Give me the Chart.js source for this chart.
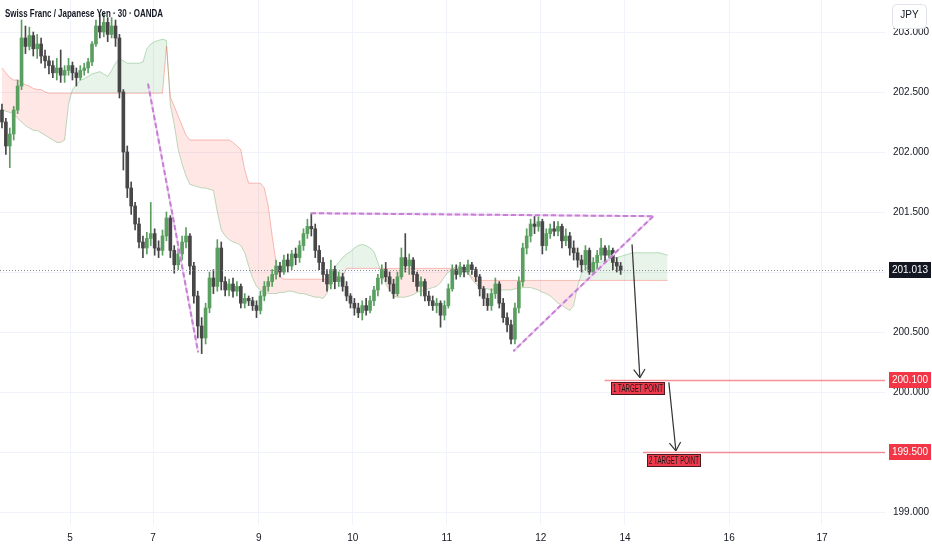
<!DOCTYPE html>
<html>
<head>
<meta charset="utf-8">
<script src="https://cdn.jsdelivr.net/npm/chart.js@4.4.1/dist/chart.umd.min.js"></script>
<style>
  html, body { margin: 0; padding: 0; background: #ffffff; }
</style>
</head>
<body>
<canvas id="myChart" width="932" height="550"></canvas>
<script>
// CHF/JPY 30m candles, one slot per candle
const opens = [
  202.35, 202.25, 202.05, 202.15, 202.35, 202.55, 202.95, 202.88, 202.97, 202.86,
  202.90, 202.80, 202.76, 202.72, 202.66, 202.70, 202.64, 202.68, 202.72, 202.66,
  202.62, 202.68, 202.70, 202.75, 202.90, 203.05, 203.00, 203.08, 202.98, 203.05,
  202.95, 202.50, 202.00, 201.70, 201.55, 201.40, 201.25, 201.20, 201.28, 201.32,
  201.20, 201.18, 201.30, 201.45, 201.18, 201.06, 201.15, 201.25, 201.30, 201.05,
  200.80, 200.55, 200.45, 200.70, 200.95, 200.88, 201.20, 200.92, 200.85, 200.90,
  200.84, 200.88, 200.74, 200.78, 200.76, 200.72, 200.68, 200.80, 200.88, 200.92,
  200.98, 201.05, 201.00, 201.10, 201.05, 201.15, 201.12, 201.22, 201.32, 201.38,
  201.36, 201.18, 201.08, 200.98, 200.90, 201.02, 200.92, 200.96, 200.88, 200.80,
  200.74, 200.70, 200.66, 200.72, 200.68, 200.76, 200.85, 200.95, 201.02, 200.96,
  200.90, 200.82, 200.96, 201.12, 201.05, 201.10, 200.98, 200.88, 200.92, 200.80,
  200.76, 200.72, 200.74, 200.64, 200.72, 200.86, 201.02, 200.98, 201.04, 201.00,
  201.06, 201.02, 200.96, 200.86, 200.78, 200.72, 200.82, 200.90, 200.74, 200.62,
  200.56, 200.44, 200.70, 200.92, 201.20, 201.30, 201.40, 201.38, 201.42, 201.22,
  201.32, 201.36, 201.34, 201.38, 201.26, 201.30, 201.20, 201.16, 201.10, 201.06,
  201.18, 201.00, 201.08, 201.14, 201.20, 201.14, 201.18, 201.08, 201.05
];
const highs = [
  202.40, 202.28, 202.20, 202.38, 202.60, 203.10, 203.05, 203.04, 203.00, 202.98,
  202.95, 202.85, 202.80, 202.76, 202.78, 202.85, 202.72, 202.78, 202.75, 202.70,
  202.72, 202.74, 202.78, 202.92, 203.10, 203.15, 203.15, 203.12, 203.12, 203.10,
  202.98, 202.52, 202.05, 201.75, 201.58, 201.45, 201.30, 201.33, 201.58, 201.36,
  201.26, 201.35, 201.50, 201.47, 201.22, 201.20, 201.30, 201.37, 201.32, 201.08,
  200.84, 200.62, 200.74, 201.00, 201.02, 201.27, 201.25, 200.96, 200.94, 200.95,
  200.92, 200.90, 200.82, 200.80, 200.79, 200.76, 200.84, 200.92, 200.96, 201.02,
  201.10, 201.08, 201.14, 201.15, 201.18, 201.20, 201.26, 201.36, 201.44, 201.49,
  201.40, 201.22, 201.12, 201.02, 201.10, 201.05, 201.00, 200.99, 200.92, 200.82,
  200.78, 200.74, 200.76, 200.78, 200.80, 200.88, 200.98, 201.06, 201.08, 201.00,
  200.94, 201.00, 201.20, 201.32, 201.15, 201.12, 201.00, 200.96, 200.94, 200.84,
  200.80, 200.78, 200.76, 200.76, 200.90, 201.06, 201.06, 201.08, 201.06, 201.10,
  201.08, 201.04, 200.98, 200.88, 200.82, 200.86, 200.95, 200.92, 200.78, 200.66,
  200.60, 200.74, 200.96, 201.24, 201.36, 201.44, 201.47, 201.46, 201.44, 201.36,
  201.40, 201.42, 201.42, 201.40, 201.36, 201.33, 201.26, 201.20, 201.14, 201.22,
  201.20, 201.12, 201.18, 201.28, 201.22, 201.22, 201.20, 201.12, 201.08
];
const lows = [
  202.20, 201.98, 201.87, 202.10, 202.32, 202.52, 202.82, 202.85, 202.80, 202.78,
  202.74, 202.70, 202.65, 202.62, 202.60, 202.58, 202.58, 202.64, 202.60, 202.55,
  202.60, 202.64, 202.66, 202.72, 202.88, 202.95, 202.96, 202.92, 202.95, 202.88,
  202.45, 201.85, 201.62, 201.48, 201.35, 201.20, 201.12, 201.15, 201.22, 201.14,
  201.12, 201.14, 201.26, 201.12, 200.99, 201.02, 201.10, 201.20, 200.98, 200.74,
  200.45, 200.32, 200.40, 200.66, 200.82, 200.84, 200.85, 200.80, 200.80, 200.79,
  200.80, 200.70, 200.70, 200.72, 200.68, 200.62, 200.65, 200.76, 200.84, 200.88,
  200.94, 200.96, 200.98, 201.00, 201.02, 201.06, 201.08, 201.18, 201.28, 201.30,
  201.12, 201.02, 200.92, 200.84, 200.86, 200.86, 200.88, 200.84, 200.76, 200.70,
  200.64, 200.62, 200.60, 200.64, 200.66, 200.72, 200.80, 200.90, 200.92, 200.84,
  200.78, 200.80, 200.94, 201.00, 200.98, 200.92, 200.84, 200.80, 200.76, 200.72,
  200.68, 200.66, 200.54, 200.60, 200.70, 200.84, 200.94, 200.96, 200.96, 200.98,
  200.98, 200.92, 200.80, 200.72, 200.68, 200.68, 200.78, 200.70, 200.58, 200.50,
  200.40, 200.40, 200.66, 200.88, 201.15, 201.25, 201.32, 201.34, 201.15, 201.18,
  201.28, 201.30, 201.30, 201.20, 201.22, 201.14, 201.10, 201.04, 201.00, 201.02,
  200.98, 200.98, 201.02, 201.10, 201.08, 201.10, 201.02, 201.00, 200.98
];
const closes = [
  202.25, 202.05, 202.15, 202.35, 202.55, 202.95, 202.88, 202.97, 202.86, 202.90,
  202.80, 202.76, 202.72, 202.66, 202.70, 202.64, 202.68, 202.72, 202.66, 202.62,
  202.68, 202.70, 202.75, 202.90, 203.05, 203.00, 203.08, 202.98, 203.05, 202.95,
  202.50, 202.00, 201.70, 201.55, 201.40, 201.25, 201.20, 201.28, 201.32, 201.20,
  201.18, 201.30, 201.45, 201.18, 201.06, 201.15, 201.25, 201.30, 201.05, 200.80,
  200.55, 200.45, 200.70, 200.95, 200.88, 201.20, 200.92, 200.85, 200.90, 200.84,
  200.88, 200.74, 200.78, 200.76, 200.72, 200.68, 200.80, 200.88, 200.92, 200.98,
  201.05, 201.00, 201.10, 201.05, 201.15, 201.12, 201.22, 201.32, 201.38, 201.36,
  201.18, 201.08, 200.98, 200.90, 201.02, 200.92, 200.96, 200.88, 200.80, 200.74,
  200.70, 200.66, 200.72, 200.68, 200.76, 200.85, 200.95, 201.02, 200.96, 200.90,
  200.82, 200.96, 201.12, 201.05, 201.10, 200.98, 200.88, 200.92, 200.80, 200.76,
  200.72, 200.74, 200.64, 200.72, 200.86, 201.02, 200.98, 201.04, 201.00, 201.06,
  201.02, 200.96, 200.86, 200.78, 200.72, 200.82, 200.90, 200.74, 200.62, 200.56,
  200.44, 200.70, 200.92, 201.20, 201.30, 201.40, 201.38, 201.42, 201.22, 201.32,
  201.36, 201.34, 201.38, 201.26, 201.30, 201.20, 201.16, 201.10, 201.06, 201.18,
  201.00, 201.08, 201.14, 201.20, 201.14, 201.18, 201.08, 201.05, 201.013
];

// ichimoku leading spans (already shifted forward)
const spanA = [
  202.35, 202.34, 202.33, 202.32, 202.28, 202.25, 202.22, 202.20, 202.18, 202.18,
  202.16, 202.14, 202.12, 202.10, 202.08, 202.08, 202.10, 202.40, 202.52, 202.56,
  202.60, 202.61, 202.63, 202.65, 202.66, 202.67, 202.65, 202.63, 202.68, 202.74,
  202.78, 202.76, 202.74, 202.74, 202.74, 202.74, 202.75, 202.86, 202.90, 202.92,
  202.93, 202.94, 202.93, 202.39, 202.23, 202.02, 201.90, 201.80, 201.73, 201.72,
  201.71, 201.70, 201.70, 201.69, 201.68, 201.50, 201.35, 201.30, 201.27, 201.25,
  201.24, 201.22, 201.16, 201.05, 200.95, 200.88, 200.85, 200.83, 200.82, 200.82,
  200.82, 200.83, 200.83, 200.84, 200.84, 200.83, 200.82, 200.82, 200.81, 200.80,
  200.79, 200.79, 200.78, 200.82, 200.95, 201.04, 201.08, 201.12, 201.15, 201.17,
  201.20, 201.22, 201.23, 201.22, 201.20, 201.17, 201.08, 200.98, 200.90, 200.85,
  200.80, 200.79, 200.79, 200.79, 200.80, 200.81, 200.83, 200.84, 200.85, 200.86,
  200.87, 200.88, 200.91, 200.96, 201.00, 201.02, 201.05, 201.05, 201.03, 200.99,
  200.94, 200.90, 200.87, 200.86, 200.86, 200.85, 200.85, 200.85, 200.85, 200.85,
  200.85, 200.86, 200.86, 200.87, 200.87, 200.87, 200.86, 200.85, 200.83, 200.82,
  200.80, 200.77, 200.74, 200.72, 200.70, 200.68, 200.72, 200.88, 200.99, 201.03,
  201.05, 201.07, 201.08, 201.08, 201.10, 201.11, 201.12, 201.12, 201.13, 201.14,
  201.15, 201.16, 201.16, 201.16, 201.16, 201.16, 201.16, 201.16, 201.16, 201.15, 201.14
];
const spanB = [
  202.70, 202.66, 202.62, 202.60, 202.60, 202.58, 202.56, 202.55, 202.53, 202.52,
  202.52, 202.50, 202.49, 202.49, 202.49, 202.49, 202.49, 202.49, 202.49, 202.49,
  202.49, 202.49, 202.49, 202.49, 202.49, 202.49, 202.49, 202.49, 202.49, 202.49,
  202.49, 202.49, 202.49, 202.49, 202.49, 202.49, 202.49, 202.49, 202.49, 202.49,
  202.49, 202.49, 202.88, 202.46, 202.38, 202.30, 202.22, 202.14, 202.10, 202.10,
  202.10, 202.10, 202.10, 202.10, 202.10, 202.10, 202.10, 202.10, 202.10, 202.08,
  202.05, 202.02, 201.85, 201.74, 201.74, 201.74, 201.74, 201.70, 201.55, 201.30,
  201.08, 200.96, 200.94, 200.94, 200.94, 200.94, 200.94, 200.94, 200.94, 200.94,
  200.94, 200.94, 200.94, 200.94, 200.94, 200.94, 200.94, 200.96, 201.03, 201.03,
  201.03, 201.03, 201.03, 201.03, 201.03, 201.03, 201.03, 201.03, 201.03, 201.03,
  201.03, 201.03, 201.03, 201.03, 201.03, 201.03, 201.03, 201.03, 201.03, 201.03,
  201.03, 201.03, 201.03, 201.03, 201.03, 201.03, 201.03, 201.03, 201.02, 201.00,
  200.96, 200.93, 200.93, 200.93, 200.93, 200.93, 200.93, 200.93, 200.93, 200.93,
  200.93, 200.93, 200.93, 200.93, 200.93, 200.93, 200.93, 200.93, 200.93, 200.93,
  200.93, 200.93, 200.93, 200.93, 200.93, 200.93, 200.93, 200.93, 200.93, 200.93,
  200.93, 200.93, 200.93, 200.93, 200.93, 200.93, 200.93, 200.93, 200.93, 200.93,
  200.93, 200.93, 200.93, 200.93, 200.93, 200.93, 200.93, 200.93, 200.93, 200.93, 200.93
];

// axis ticks
const dayLabels = ["5", "7", "9", "10", "11", "12", "14", "16", "17"];
const dayTickSlots = [17.4, 38.6, 65.6, 89.6, 113.6, 137.6, 159.1, 185.7, 209.4];
const priceTicks = [199.0, 199.5, 200.0, 200.5, 201.0, 201.5, 202.0, 202.5, 203.0];
const slotCount = 226;
const priceMin = 198.8917;
const priceMax = 203.2667;

// drawings on the chart, in [slot, price]
const lastPrice = 201.013;
const patternLines = [
  [[37.3, 202.57], [50.1, 200.33]],
  [[78.9, 201.49], [166.3, 201.465]],
  [[166.3, 201.465], [130.6, 200.34]],
];
const arrows = [
  [[160.9, 201.23], [162.9, 200.12]],
  [[170.3, 200.08], [172.1, 199.51]],
];
const targetPrices = [200.1, 199.5];
const targetStartSlots = [153.9, 163.7];
const targetLabelSlots = [155.5, 164.7];
const targetLabels = ["1 TARGET POINT", "2 TARGET POINT"];

const FONT = '"Liberation Sans", Arial, sans-serif';
const upColor = "#5a9f60";
const downColor = "#474747";

const candleColor = (c) => (closes[c.dataIndex] >= opens[c.dataIndex] ? upColor : downColor);

function seg(ctx, x1, y1, x2, y2) {
  ctx.beginPath();
  ctx.moveTo(x1, y1);
  ctx.lineTo(x2, y2);
  ctx.stroke();
}

const drawings = {
  id: "drawings",
  afterDatasetsDraw(chart) {
    const { ctx, chartArea: a } = chart;
    const x = chart.scales.x, y = chart.scales.y;
    ctx.save();
    ctx.beginPath();
    ctx.rect(a.left, a.top, a.right - a.left, a.bottom - a.top);
    ctx.clip();

    // last price dotted line
    const ly = Math.round(y.getPixelForValue(lastPrice)) + 0.5;
    ctx.strokeStyle = "#8a8d96";
    ctx.lineWidth = 1;
    ctx.setLineDash([1, 2]);
    seg(ctx, a.left, ly, a.right, ly);

    // triangle / wedge lines
    patternLines.forEach(([p, q]) => {
      const x1 = x.getPixelForValue(p[0]), y1 = y.getPixelForValue(p[1]);
      const x2 = x.getPixelForValue(q[0]), y2 = y.getPixelForValue(q[1]);
      ctx.lineWidth = 2;
      ctx.setLineDash([]);
      ctx.strokeStyle = "#efcdf4";
      seg(ctx, x1, y1, x2, y2);
      ctx.setLineDash([5, 3]);
      ctx.strokeStyle = "#c57fd3";
      seg(ctx, x1, y1, x2, y2);
    });
    ctx.setLineDash([]);

    // target lines
    targetPrices.forEach((p, i) => {
      const ty = Math.round(y.getPixelForValue(p)) + 0.5;
      ctx.strokeStyle = "rgba(242, 54, 69, 0.55)";
      ctx.lineWidth = 1.5;
      seg(ctx, x.getPixelForValue(targetStartSlots[i]), ty, a.right, ty);
    });

    // arrows
    ctx.strokeStyle = "#333333";
    ctx.lineWidth = 1.2;
    arrows.forEach(([p, q]) => {
      const x1 = x.getPixelForValue(p[0]), y1 = y.getPixelForValue(p[1]);
      const x2 = x.getPixelForValue(q[0]), y2 = y.getPixelForValue(q[1]);
      seg(ctx, x1, y1, x2, y2);
      const ang = Math.atan2(y2 - y1, x2 - x1);
      [0.6, -0.6].forEach((d) => {
        seg(ctx, x2, y2, x2 - 10 * Math.cos(ang + d), y2 - 10 * Math.sin(ang + d));
      });
    });

    // target label boxes
    targetLabels.forEach((t, i) => {
      const bx = Math.round(x.getPixelForValue(targetLabelSlots[i])) + 0.5;
      const by = Math.round(y.getPixelForValue(targetPrices[i])) + 2.5;
      ctx.fillStyle = "#ee3a4c";
      ctx.fillRect(bx, by, 53, 12);
      ctx.strokeStyle = "#4a1a1e";
      ctx.lineWidth = 1;
      ctx.strokeRect(bx, by, 53, 12);
      ctx.fillStyle = "#1a1a1a";
      ctx.font = "10px " + FONT;
      ctx.textAlign = "center";
      ctx.textBaseline = "middle";
      ctx.fillText(t, bx + 26.5, by + 6.5, 50);
    });
    ctx.restore();
  },
  afterDraw(chart) {
    const { ctx, chartArea: a } = chart;
    const y = chart.scales.y;
    ctx.save();

    // price tags on the axis
    const tags = [[lastPrice, "#131722"], [targetPrices[0], "#f23645"], [targetPrices[1], "#f23645"]];
    tags.forEach(([p, c]) => {
      const cy = Math.round(y.getPixelForValue(p));
      ctx.fillStyle = c;
      ctx.fillRect(a.right + 4, cy - 8, 42, 16);
      ctx.fillStyle = "#ffffff";
      ctx.font = "10px " + FONT;
      ctx.textAlign = "center";
      ctx.textBaseline = "middle";
      ctx.fillText(p.toFixed(3), a.right + 25, cy + 0.5, 38);
    });

    // currency box, sits over the top tick label like the original
    ctx.fillStyle = "#ffffff";
    ctx.strokeStyle = "#e0e3eb";
    ctx.lineWidth = 1;
    ctx.beginPath();
    ctx.roundRect(a.right + 7.5, 4.5, 34, 24, 4);
    ctx.fill();
    ctx.stroke();
    ctx.fillStyle = "#131722";
    ctx.font = "10px " + FONT;
    ctx.textAlign = "center";
    ctx.textBaseline = "middle";
    ctx.fillText("JPY", a.right + 24.5, 15.5);

    // title
    ctx.textAlign = "left";
    ctx.font = "bold 11px " + FONT;
    ctx.fillText("Swiss Franc / Japanese Yen \u00b7 30 \u00b7 OANDA", 5, 14, 158);
    ctx.restore();
  },
};

const config = {
  type: "bar",
  data: {
    datasets: [
      {
        label: "body",
        data: opens.map((o, i) => ({ x: i, y: [o, closes[i]] })),
        backgroundColor: candleColor,
        barThickness: 3,
        minBarLength: 1,
        grouped: false,
        order: 1,
      },
      {
        label: "wick",
        data: highs.map((h, i) => ({ x: i, y: [lows[i], h] })),
        backgroundColor: candleColor,
        barThickness: 1,
        grouped: false,
        order: 2,
      },
      {
        type: "line",
        label: "Lead 1",
        data: spanA.map((v, i) => ({ x: i, y: v })),
        borderColor: "rgba(67, 160, 71, 0.35)",
        borderWidth: 1,
        pointRadius: 0,
        tension: 0,
        fill: { target: "+1", above: "rgba(67, 160, 71, 0.12)", below: "rgba(244, 67, 54, 0.13)" },
        order: 3,
      },
      {
        type: "line",
        label: "Lead 2",
        data: spanB.map((v, i) => ({ x: i, y: v })),
        borderColor: "rgba(244, 67, 54, 0.35)",
        borderWidth: 1,
        pointRadius: 0,
        tension: 0,
        fill: false,
        order: 4,
      },
    ],
  },
  options: {
    responsive: false,
    animation: false,
    events: [],
    layout: { padding: 0 },
    plugins: { legend: { display: false }, tooltip: { enabled: false } },
    scales: {
      x: {
        type: "linear",
        min: -0.5,
        max: slotCount - 0.5,
        offset: false,
        grid: { color: "#f0f3fa", offset: false, drawTicks: false },
        border: { display: false },
        afterBuildTicks: (s) => { s.ticks = dayTickSlots.map((v) => ({ value: v })); },
        afterFit: (s) => {
          s.height = 25;
          s.paddingLeft = 0;
          s.paddingRight = 0;
        },
        ticks: {
          autoSkip: false,
          maxRotation: 0,
          padding: 7,
          color: "#131722",
          font: { size: 10, family: FONT },
          callback: (v, i) => dayLabels[i],
        },
      },
      y: {
        position: "right",
        min: priceMin,
        max: priceMax,
        grid: { color: "#f0f3fa", drawTicks: false },
        border: { display: false },
        afterBuildTicks: (s) => { s.ticks = priceTicks.map((v) => ({ value: v })); },
        afterFit: (s) => {
          s.width = 47;
          s.paddingTop = 0;
          s.paddingBottom = 0;
        },
        ticks: {
          padding: 8,
          color: "#131722",
          font: { size: 10, family: FONT },
          callback: (v) => v.toFixed(3),
        },
      },
    },
  },
  plugins: [drawings],
};

const myChart = new Chart(document.getElementById("myChart"), config);
</script>
</body>
</html>
